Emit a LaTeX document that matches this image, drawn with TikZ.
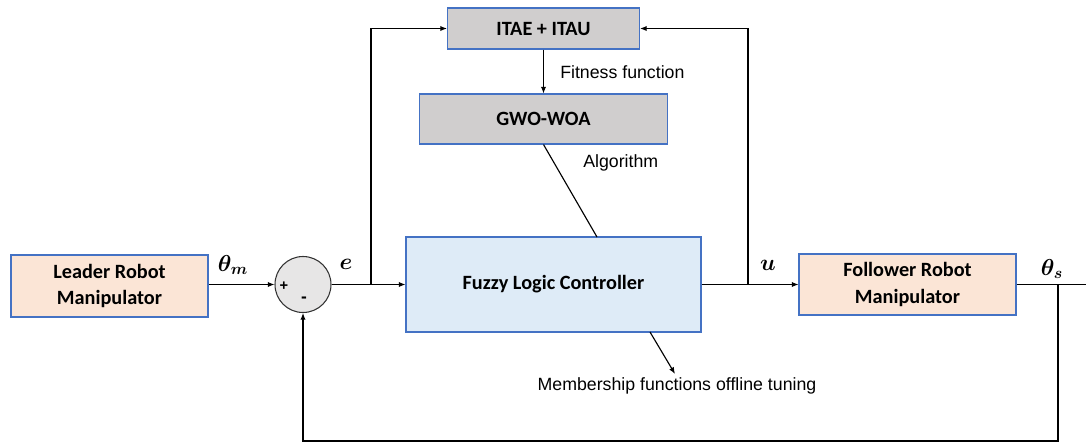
\documentclass[tikz,border=0pt]{standalone}
\usepackage{fontspec}
\usepackage{amsmath,bm}
\setmainfont{Liberation Sans}
\newfontfamily\boxfont{Carlito}
\usetikzlibrary{arrows.meta}
\definecolor{peach}{HTML}{FBE5D6}
\definecolor{lblue}{HTML}{DEEBF7}
\definecolor{gbox}{HTML}{D0CECE}
\definecolor{bord}{HTML}{4472C4}
\definecolor{sumfill}{HTML}{E7E6E6}
\begin{document}
\begin{tikzpicture}[x=0.75pt,y=-0.75pt,
  blk/.style={draw=bord,line width=0.8pt,rectangle,align=center,inner sep=0pt,
     font=\boxfont\bfseries\fontsize{15.2}{20}\selectfont},
  lbl/.style={font=\fontsize{13.3}{15.5}\selectfont,inner sep=0pt},
  mlbl/.style={font=\fontsize{16.5}{18}\selectfont,inner sep=0pt},
  arr/.style={-{Latex[length=5pt,width=4pt]}},
  ln/.style={line width=0.85pt,black}]
\useasboundingbox (0,0) rectangle (1086,444);
\node[blk,fill=peach,minimum width=147.75pt,minimum height=46.5pt] (lead) at (109.5,286) {Leader Robot\\Manipulator};
\node[draw=black!80,line width=0.8pt,circle,fill=sumfill,minimum size=42pt,inner sep=0pt] (sum) at (303,284.5) {};
\node[blk,fill=lblue,minimum width=221.25pt,minimum height=71.25pt] (flc) at (553.5,284.5) {Fuzzy Logic Controller};
\node[blk,fill=peach,minimum width=162.75pt,minimum height=45.75pt] (fol) at (907.5,284.5) {Follower Robot\\Manipulator};
\node[blk,fill=gbox,minimum width=144pt,minimum height=30.75pt] (itae) at (543.5,28.5) {ITAE + ITAU};
\node[blk,fill=gbox,minimum width=186pt,minimum height=37.5pt] (gwo) at (543.5,119) {GWO-WOA};
\node[font=\bfseries\fontsize{11}{12}\selectfont,inner sep=0pt] (plus) at (284,286) {+};
\node[font=\bfseries\fontsize{13}{13}\selectfont,inner sep=0pt] (minus) at (304,300) {-};
\coordinate (eb) at (371,284.5);
\coordinate (ub) at (748,284.5);
\coordinate (sb) at (1058,284.5);
\coordinate (out) at (1086,284.5);
\coordinate (bot) at (1058,441);
\coordinate (flctop) at (597,237);
\coordinate (mstart) at (650,332);
\coordinate (mend) at (675,374);
\draw[ln,arr] (lead.east |- sum) -- (sum.west);
\draw[ln,arr] (sum.east) -- (flc.west);
\draw[ln,arr] (eb) |- (itae.west);
\draw[ln,arr] (itae.south) -- (gwo.north);
\draw[ln] (gwo.south) -- (flctop);
\draw[ln,arr] (flc.east) -- (fol.west);
\draw[ln,arr] (ub) |- (itae.east);
\draw[ln] (fol.east) -- (out);
\draw[ln,arr] (sb) -- (bot) -| (sum.south);
\draw[ln,arr] (mstart) -- (mend);
\node[mlbl] (thm) at (233,265) {$\boldsymbol{\theta_m}$};
\node[mlbl] (el) at (346,264) {$\boldsymbol{e}$};
\node[mlbl] (ul) at (768,265) {$\boldsymbol{u}$};
\node[mlbl] (ths) at (1052,269) {$\boldsymbol{\theta_s}$};
\node[lbl,anchor=west] (fit) at (560,72) {Fitness function};
\node[lbl,anchor=west] (alg) at (583,163) {Algorithm};
\node[lbl] (mem) at (677,386) {Membership functions offline tuning};
\end{tikzpicture}
\end{document}
